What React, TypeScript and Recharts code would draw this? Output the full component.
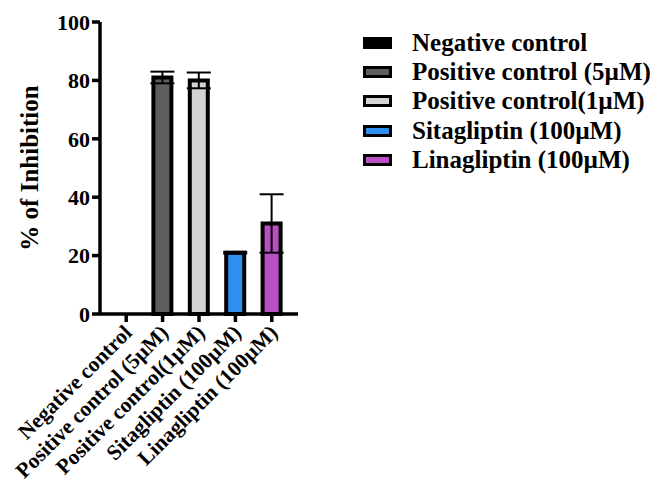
import React from 'react';
import { BarChart, Bar, XAxis, YAxis, ErrorBar, Cell } from 'recharts';

const groups = [
  'Negative control',
  'Positive control (5µM)',
  'Positive control(1µM)',
  'Sitagliptin (100µM)',
  'Linagliptin (100µM)',
];
const legendNames = [
  'Negative control',
  'Positive control (5µM)',
  'Positive control(1µM)',
  'Sitagliptin (100µM)',
  'Linagliptin (100µM)',
];
const inhibition = [0, 81, 80, 21, 31];
const sem = [0, 2, 2.7, 0.3, 10];
const colors = ['#000000', '#5f5f5f', '#d4d4d4', '#2f8ff0', '#b84fc4'];
const yTicks = [0, 20, 40, 60, 80, 100];

const data = groups.map((g, i) => ({ name: g, value: inhibition[i], err: sem[i] }));

const FONT = '"Liberation Serif", "Times New Roman", serif';

const XTick = (props: any) => {
  const { x, y, payload } = props;
  const ax = x + 7;
  const ay = y + 10;
  return (
    <text
      x={ax}
      y={ay}
      textAnchor="end"
      transform={`rotate(-45, ${ax}, ${ay})`}
      fontFamily={FONT}
      fontWeight="bold"
      fontSize={21.5}
      fill="#000"
    >
      {payload.value}
    </text>
  );
};

const LegendBox = () => (
  <div
    style={{
      position: 'absolute',
      left: 363,
      top: 28,
      fontFamily: FONT,
      fontWeight: 'bold',
      fontSize: 25,
      whiteSpace: 'nowrap',
    }}
  >
    {legendNames.map((n, i) => (
      <div key={n} style={{ display: 'flex', alignItems: 'center', height: 29.3 }}>
        <div
          style={{
            width: 23,
            height: 6,
            background: colors[i],
            border: '3.5px solid #000',
            marginRight: 20,
          }}
        />
        <span>{n}</span>
      </div>
    ))}
  </div>
);

export default function App() {
  return (
    <div style={{ position: 'absolute', left: 0, top: 0, width: 662, height: 494 }}>
      <BarChart
        width={662}
        height={494}
        data={data}
        margin={{ top: 22, right: 364, bottom: 0, left: 8 }}
        barCategoryGap={0}
      >
        <YAxis
          width={92}
          domain={[0, 100]}
          ticks={yTicks}
          interval={0}
          axisLine={{ stroke: '#000', strokeWidth: 3.5 }}
          tickLine={{ stroke: '#000', strokeWidth: 3.5 }}
          tickSize={8}
          tick={{ fontFamily: FONT, fontWeight: 'bold', fontSize: 22, fill: '#000' }}
          label={{
            value: '% of Inhibition',
            angle: -90,
            position: 'insideLeft',
            offset: 21,
            style: { fontFamily: FONT, fontWeight: 'bold', fontSize: 25, fill: '#000', textAnchor: 'middle' },
          }}
        />
        <XAxis
          dataKey="name"
          interval={0}
          padding={{ left: 8, right: 8 }}
          axisLine={{ stroke: '#000', strokeWidth: 3.5 }}
          tickLine={{ stroke: '#000', strokeWidth: 3.5 }}
          tickSize={8}
          tick={<XTick />}
          height={180}
        />
        <Bar dataKey="value" barSize={18} stroke="#000" strokeWidth={4} isAnimationActive={false}>
          {data.map((d, i) => (
            <Cell key={d.name} fill={colors[i]} />
          ))}
          <ErrorBar dataKey="err" direction="y" width={12} stroke="#000" strokeWidth={2} />
        </Bar>
      </BarChart>
      <LegendBox />
    </div>
  );
}
